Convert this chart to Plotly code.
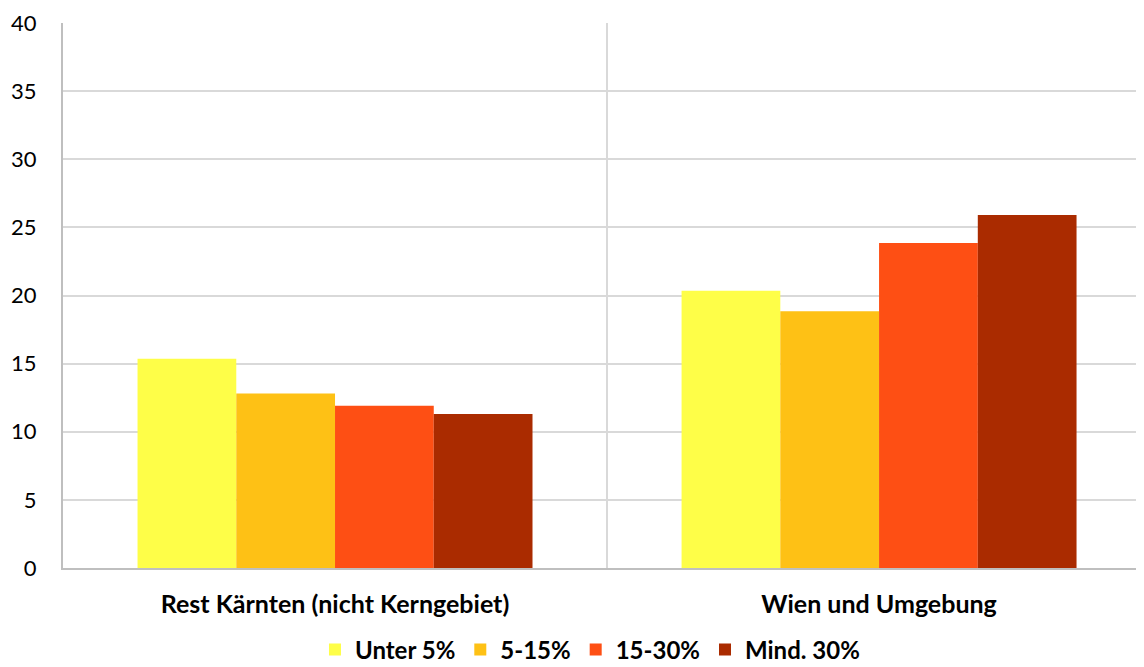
import plotly.graph_objects as go

categories = ["Rest Kärnten (nicht Kerngebiet)", "Wien und Umgebung"]
series_names = ["Unter 5%", "5-15%", "15-30%", "Mind. 30%"]
values = {
    "Unter 5%": [15.35, 20.35],
    "5-15%": [12.8, 18.85],
    "15-30%": [11.9, 23.85],
    "Mind. 30%": [11.3, 25.9],
}
colors = ["#FEFE48", "#FEC115", "#FE4F14", "#AA2B00"]
y_ticks = [0, 5, 10, 15, 20, 25, 30, 35, 40]

font_family = "Lato, 'Open Sans', sans-serif"
x_pos = list(range(len(categories)))

fig = go.Figure()
for name, col in zip(series_names, colors):
    fig.add_trace(go.Bar(
        x=x_pos, y=values[name], name=name,
        marker=dict(color=col, line=dict(width=0)),
    ))

# the page body has an 8px margin, so the figure is offset by 8px
fig.update_layout(
    width=1136, height=659,
    barmode="group", bargap=0.274, bargroupgap=0,
    plot_bgcolor="white", paper_bgcolor="white",
    margin=dict(l=55, r=0, t=15, b=99, autoexpand=False),
    font=dict(family=font_family, color="#000000"),
    showlegend=True,
    legend=dict(
        orientation="h", x=0.4875, xanchor="center",
        yref="container", y=17.0 / 659, yanchor="middle",
        font=dict(size=24, family=font_family, weight="bold"),
        itemwidth=30, traceorder="normal", tracegroupgap=0,
    ),
)
fig.update_xaxes(
    range=[-0.5, 1.487],
    tickmode="array", tickvals=x_pos, ticktext=categories,
    tickfont=dict(size=25, family=font_family, weight="bold"),
    showgrid=False, showline=True, linecolor="#BFBFBF", linewidth=2,
    ticks="", ticklabelstandoff=13, automargin=False,
    minor=dict(tickmode="array", tickvals=[0.5], showgrid=True, gridcolor="#D9D9D9", gridwidth=2),
    zeroline=False,
)
fig.update_yaxes(
    range=[0, 40], tickmode="array", tickvals=y_ticks,
    tickfont=dict(size=22, family=font_family),
    showgrid=True, gridcolor="#D9D9D9", gridwidth=2,
    showline=True, linecolor="#BFBFBF", linewidth=2,
    ticks="", ticklabelstandoff=20, zeroline=False, automargin=False,
)

fig.write_html("out.html")
